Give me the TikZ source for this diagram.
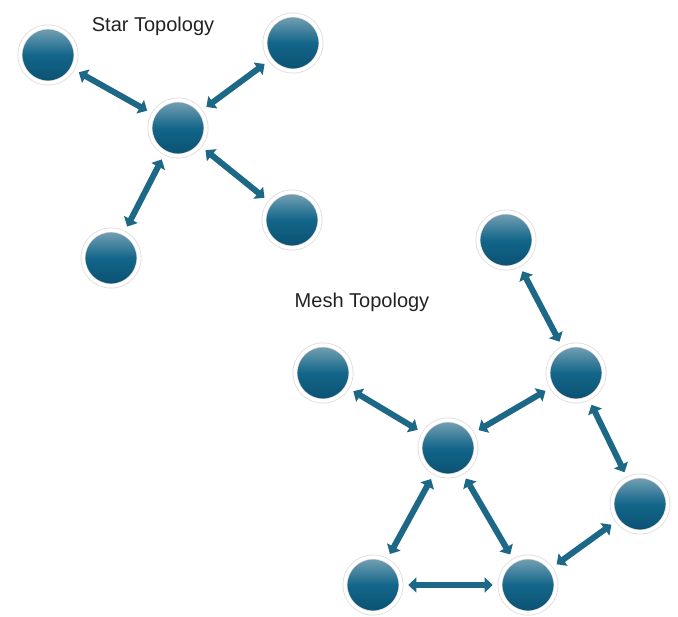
\documentclass[tikz,border=0pt]{standalone}
\usepackage{fontspec}
\setmainfont{Liberation Sans}
\usetikzlibrary{arrows.meta}
\definecolor{nodetop}{HTML}{7AA3B5}
\definecolor{nodemid}{HTML}{13668A}
\definecolor{nodebot}{HTML}{0A5070}
\definecolor{linkblue}{HTML}{1E6887}
\definecolor{ringgray}{HTML}{D8D8D8}
\definecolor{labelgray}{HTML}{222222}
\tikzset{
  station/.style={circle, minimum size=56pt, inner sep=0pt,
    top color=nodetop, bottom color=nodebot, middle color=nodemid,
    draw=ringgray, double=white, double distance=3.5pt, line width=0.7pt},
  link/.style={draw=linkblue, line width=6pt,
    {Triangle[length=8pt,width=15pt]}-{Triangle[length=8pt,width=15pt]},
    shorten <=7pt, shorten >=7pt},
  title/.style={font=\fontsize{20}{24}\selectfont, text=labelgray}
}

\begin{document}
\begin{tikzpicture}[x=1pt, y=-1pt]
    \useasboundingbox (0,0) rectangle (678,617);
    % star
    \node[title] (startitle) at (153,26) {Star Topology};
    \node[station] (hub) at (178,128) {};
    \node[station] (s1) at (48,55) {};
    \node[station] (s2) at (293,43) {};
    \node[station] (s3) at (292,220) {};
    \node[station] (s4) at (111,258) {};
    \draw[link] (s1) -- (hub);
    \draw[link] (hub) -- (s2);
    \draw[link] (hub) -- (s3);
    \draw[link] (hub) -- (s4);
    % mesh
    \node[title] (meshtitle) at (362,302) {Mesh Topology};
    \node[station] (m1) at (506,240) {};
    \node[station] (m2) at (323,373) {};
    \node[station] (m3) at (576,373) {};
    \node[station] (m4) at (448,448) {};
    \node[station] (m5) at (640,504) {};
    \node[station] (m6) at (373,585) {};
    \node[station] (m7) at (528,585) {};
    \draw[link] (m1) -- (m3);
    \draw[link] (m3) -- (m4);
    \draw[link] (m2) -- (m4);
    \draw[link] (m3) -- (m5);
    \draw[link] (m4) -- (m6);
    \draw[link] (m4) -- (m7);
    \draw[link] (m5) -- (m7);
    \draw[link] (m6) -- (m7);
\end{tikzpicture}
\end{document}
